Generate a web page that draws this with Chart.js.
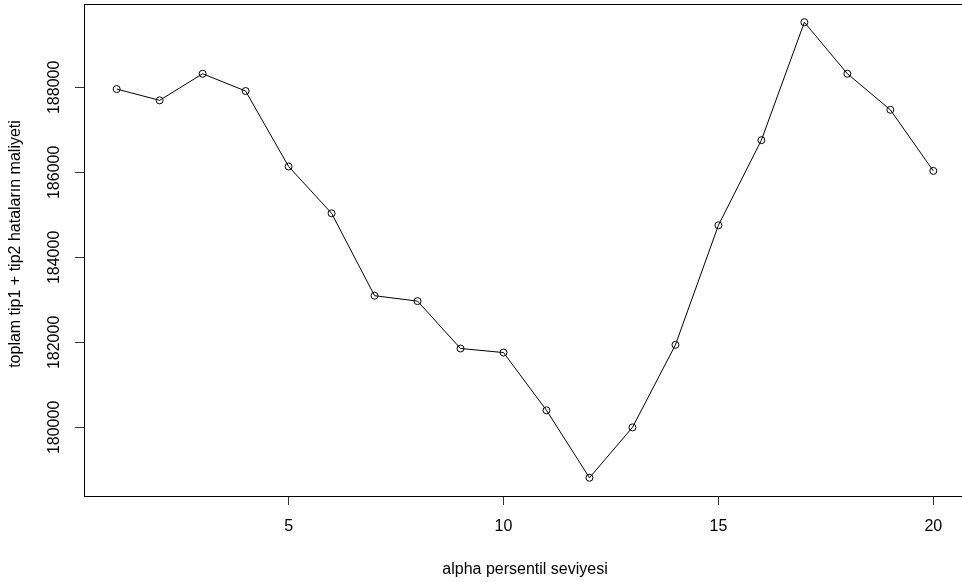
<!DOCTYPE html>
<html>
<head>
<meta charset="utf-8">
<script src="https://cdn.jsdelivr.net/npm/chart.js@4/dist/chart.umd.min.js"></script>
<style>
  html, body { margin: 0; padding: 0; background: #fff; overflow: hidden; }
  #wrap { width: 962px; height: 582px; overflow: hidden; position: relative; }
  #costChart { position: absolute; left: 0; top: 0; }
</style>
</head>
<body>
<div id="wrap"><canvas id="costChart" width="967" height="582"></canvas></div>
<script>
// alpha percentile levels and total cost of type1 + type2 errors
const alphaLevels = [1, 2, 3, 4, 5, 6, 7, 8, 9, 10, 11, 12, 13, 14, 15, 16, 17, 18, 19, 20];
const totalCost = [187960, 187694, 188320, 187913, 186138, 185037, 183098, 182971, 181856, 181761,
                   180402, 178815, 180000, 181943, 184755, 186758, 189532, 188320, 187472, 186034];
const xTicks = [5, 10, 15, 20];
const yTicks = [180000, 182000, 184000, 186000, 188000];
const xTitle = 'alpha persentil seviyesi';
const yTitle = 'toplam tip1 + tip2 hataların maliyeti';

// R style 4% axis extension
const pad = (lo, hi) => [lo - (hi - lo) * 0.04, hi + (hi - lo) * 0.04];
const [xMin, xMax] = pad(Math.min(...alphaLevels), Math.max(...alphaLevels));
const [yMin, yMax] = pad(Math.min(...totalCost), Math.max(...totalCost));

const FONT = '16px "Liberation Sans", Arial, sans-serif';

// Box, tick labels and axis titles
const rLabels = {
  id: 'rLabels',
  afterDraw(chart) {
    const ctx = chart.ctx;
    const a = chart.chartArea;
    const xs = chart.scales.x;
    const ys = chart.scales.y;
    ctx.save();
    ctx.strokeStyle = '#000';
    ctx.lineWidth = 1;
    ctx.strokeRect(Math.round(a.left) + 0.5, Math.round(a.top) + 0.5,
                   Math.round(a.right - a.left), Math.round(a.bottom - a.top));
    ctx.fillStyle = '#000';
    ctx.font = FONT;
    ctx.textAlign = 'center';
    ctx.textBaseline = 'middle';
    xTicks.forEach(v => ctx.fillText(String(v), xs.getPixelForValue(v), 527));
    ctx.fillText(xTitle, (a.left + a.right) / 2, 570);
    yTicks.forEach(v => {
      ctx.save();
      ctx.translate(55, ys.getPixelForValue(v));
      ctx.rotate(-Math.PI / 2);
      ctx.fillText(String(v), 0, 0);
      ctx.restore();
    });
    ctx.translate(16, (a.top + a.bottom) / 2 - 6);
    ctx.rotate(-Math.PI / 2);
    ctx.fillText(yTitle, 0, 0);
    ctx.restore();
  }
};

new Chart(document.getElementById('costChart'), {
  type: 'line',
  data: {
    datasets: [{
      data: alphaLevels.map((x, i) => ({ x, y: totalCost[i] })),
      borderColor: '#000',
      borderWidth: 1,
      backgroundColor: 'rgba(0,0,0,0)',
      pointRadius: 3.5,
      pointBorderWidth: 1,
      pointBorderColor: '#000',
      pointBackgroundColor: 'rgba(0,0,0,0)',
      tension: 0,
      fill: false
    }]
  },
  options: {
    responsive: false,
    animation: false,
    // plot box runs past the right edge of the picture, as in the reference
    layout: { autoPadding: false, padding: { top: 4, right: 1, left: 0, bottom: 0 } },
    plugins: { legend: { display: false }, tooltip: { enabled: false } },
    scales: {
      x: {
        type: 'linear',
        min: xMin,
        max: xMax,
        afterBuildTicks: s => { s.ticks = xTicks.map(v => ({ value: v })); },
        afterFit: s => { s.height = 86; },
        grid: { drawOnChartArea: false, drawTicks: true, tickLength: 9, color: '#333' },
        border: { display: true, color: '#000' },
        ticks: { display: false }
      },
      y: {
        type: 'linear',
        min: yMin,
        max: yMax,
        afterBuildTicks: s => { s.ticks = yTicks.map(v => ({ value: v })); },
        afterFit: s => { s.width = 84; },
        grid: { drawOnChartArea: false, drawTicks: true, tickLength: 9, color: '#333' },
        border: { display: true, color: '#000' },
        ticks: { display: false }
      }
    }
  },
  plugins: [rLabels]
});
</script>
</body>
</html>
